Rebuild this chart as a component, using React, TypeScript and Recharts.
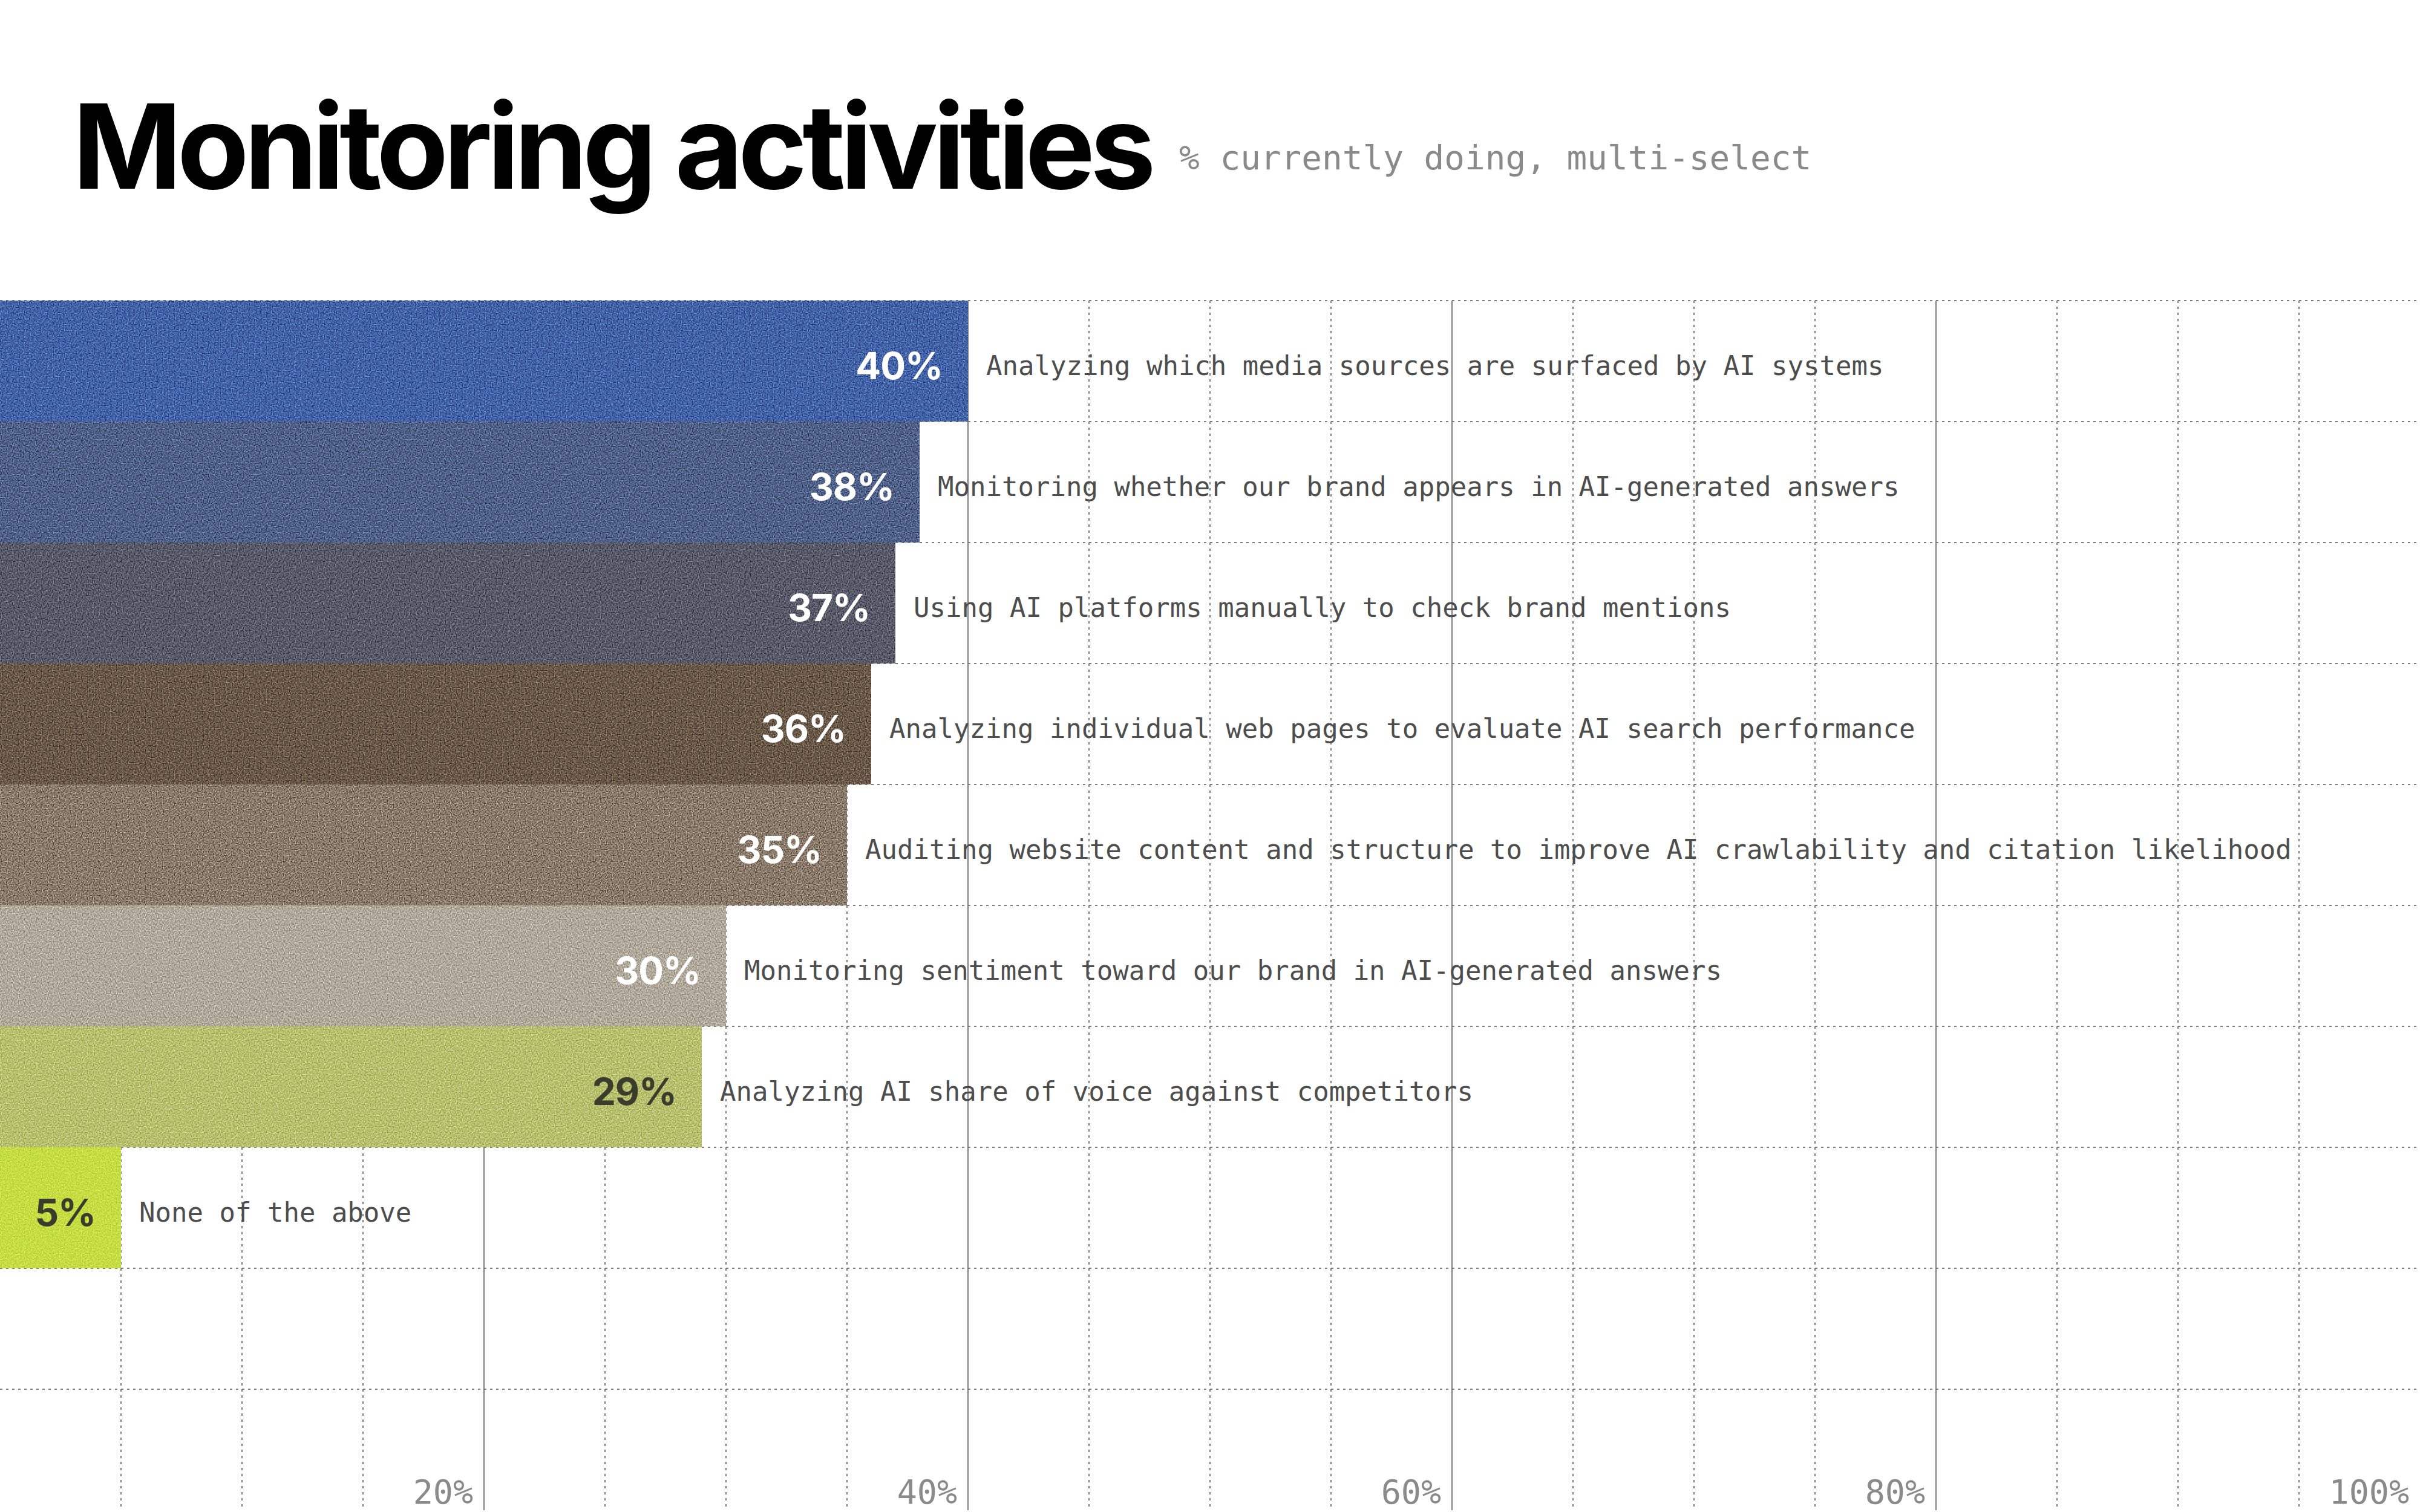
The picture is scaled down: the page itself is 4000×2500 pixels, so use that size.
import React from 'react';
import { BarChart, Bar, XAxis, YAxis, CartesianGrid, Cell } from 'recharts';

const categories = [
  'Analyzing which media sources are surfaced by AI systems',
  'Monitoring whether our brand appears in AI-generated answers',
  'Using AI platforms manually to check brand mentions',
  'Analyzing individual web pages to evaluate AI search performance',
  'Auditing website content and structure to improve AI crawlability and citation likelihood',
  'Monitoring sentiment toward our brand in AI-generated answers',
  'Analyzing AI share of voice against competitors',
  'None of the above',
];
const values = [40, 38, 37, 36, 35, 30, 29, 5];
const barColors = ['#4464a8', '#51628a', '#5a5b6b', '#6b5a4a', '#8b7c6c', '#b2aa9c', '#b9c170', '#c6de44'];
const valueLabelColors = ['#ffffff', '#ffffff', '#ffffff', '#ffffff', '#ffffff', '#ffffff', '#3b3d2c', '#3b3d2c'];
const minorGridLines = [5, 10, 15, 20, 25, 30, 35, 40, 45, 50, 55, 60, 65, 70, 75, 80, 85, 90, 95];
const majorGridLines = [20, 40, 60, 80];
const tickLabels = [20, 40, 60, 80, 100];
const paddingRows = ['pad-a', 'pad-b'];

const data = [
  ...categories.map((label, i) => ({ id: `row-${i}`, label, value: values[i] })),
  ...paddingRows.map((id) => ({ id, label: '', value: null as number | null })),
];

const MONO = '"DejaVu Sans Mono", "Liberation Mono", monospace';
const SANS = 'Inter, "Noto Sans", sans-serif';
const GRID = '#7c7c7c';

const xPositions = (lines: number[]) => (props: any) => {
  const { xAxis, offset } = props;
  const scale = xAxis && xAxis.scale;
  return lines.map((v) =>
    typeof scale === 'function' ? scale(v) : offset.left + (v / 100) * offset.width
  );
};

const rowBoundaries = (props: any) => {
  const { yAxis, offset } = props;
  const scale = yAxis && yAxis.scale;
  return data.map((d, i) =>
    typeof scale === 'function' && typeof scale.bandwidth === 'function'
      ? scale(d.id)
      : offset.top + (i * offset.height) / data.length
  );
};

const GrainBar = (props: any) => {
  const { x, y, width, height, index, payload } = props;
  if (payload == null || payload.value == null || !width || width <= 0) return null;
  const id = `grain-${index}`;
  const cy = y + height / 2;
  return (
    <g>
      <defs>
        <filter id={id} x="0" y="0" width="1" height="1" colorInterpolationFilters="sRGB">
          <feTurbulence type="fractalNoise" baseFrequency="0.5" numOctaves={2} seed={index + 3} result="noise" />
          <feColorMatrix
            in="noise"
            type="matrix"
            values="0.33 0.33 0.33 0 0  0.33 0.33 0.33 0 0  0.33 0.33 0.33 0 0  0 0 0 0 1"
            result="mono"
          />
          <feComponentTransfer in="mono" result="contrast">
            <feFuncR type="linear" slope="3.5" intercept="-1.25" />
            <feFuncG type="linear" slope="3.5" intercept="-1.25" />
            <feFuncB type="linear" slope="3.5" intercept="-1.25" />
          </feComponentTransfer>
          <feBlend in="contrast" in2="SourceGraphic" mode="overlay" result="blend" />
          <feComposite in="blend" in2="SourceGraphic" operator="arithmetic" k1="0" k2="0.6" k3="0.4" k4="0" result="mix" />
          <feComposite in="mix" in2="SourceGraphic" operator="in" />
        </filter>
      </defs>
      <rect x={x} y={y} width={width} height={height} fill={barColors[index]} filter={`url(#${id})`} />
      <text
        x={x + width - 42}
        y={cy + 30}
        textAnchor="end"
        fontFamily={SANS}
        fontWeight={700}
        fontSize={62}
        letterSpacing={-1}
        fill={valueLabelColors[index]}
      >
        {`${payload.value}%`}
      </text>
      <text x={x + width + 30} y={cy + 23} textAnchor="start" fontFamily={MONO} fontSize={44} fill="#4d4d4d">
        {payload.label}
      </text>
    </g>
  );
};

const AxisTick = (props: any) => {
  const { x, payload } = props;
  return (
    <text x={x - 18} y={2486} textAnchor="end" fontFamily={MONO} fontSize={55} fill="#8a8a8a">
      {`${payload.value}%`}
    </text>
  );
};

export default function App() {
  return (
    <div style={{ position: 'absolute', left: 0, top: 0, width: 4000, height: 2500, background: '#ffffff', overflow: 'hidden' }}>
      <svg width={4000} height={497} style={{ position: 'absolute', left: 0, top: 0 }}>
        <text x={120} y={312} fontFamily={SANS} fontWeight={700} fontSize={194} letterSpacing={-8} fill="#000000">
          Monitoring activities
        </text>
        <text x={1949} y={280} fontFamily={MONO} fontSize={56} fill="#8a8a8a">
          % currently doing, multi-select
        </text>
      </svg>
      <div style={{ position: 'absolute', left: 0, top: 0 }}>
        <BarChart
          width={4000}
          height={2500}
          data={data}
          layout="vertical"
          margin={{ top: 497, right: 0, bottom: 2, left: 0 }}
          barCategoryGap={0}
        >
          <CartesianGrid
            horizontal={false}
            stroke={GRID}
            strokeWidth={2}
            strokeDasharray="4 6"
            verticalCoordinatesGenerator={xPositions(minorGridLines)}
          />
          <CartesianGrid
            horizontal={false}
            stroke={GRID}
            strokeWidth={2}
            verticalCoordinatesGenerator={xPositions(majorGridLines)}
          />
          <CartesianGrid
            vertical={false}
            stroke={GRID}
            strokeWidth={2}
            strokeDasharray="4 6"
            horizontalCoordinatesGenerator={rowBoundaries}
          />
          <XAxis
            type="number"
            domain={[0, 100]}
            ticks={tickLabels}
            height={1}
            axisLine={false}
            tickLine={false}
            tickSize={0}
            tickMargin={0}
            tick={<AxisTick />}
            interval={0}
          />
          <YAxis type="category" dataKey="id" hide width={0} />
          <Bar dataKey="value" isAnimationActive={false} shape={<GrainBar />}>
            {data.map((d, i) => (
              <Cell key={d.id} fill={barColors[i] ?? '#ffffff'} />
            ))}
          </Bar>
        </BarChart>
      </div>
    </div>
  );
}
